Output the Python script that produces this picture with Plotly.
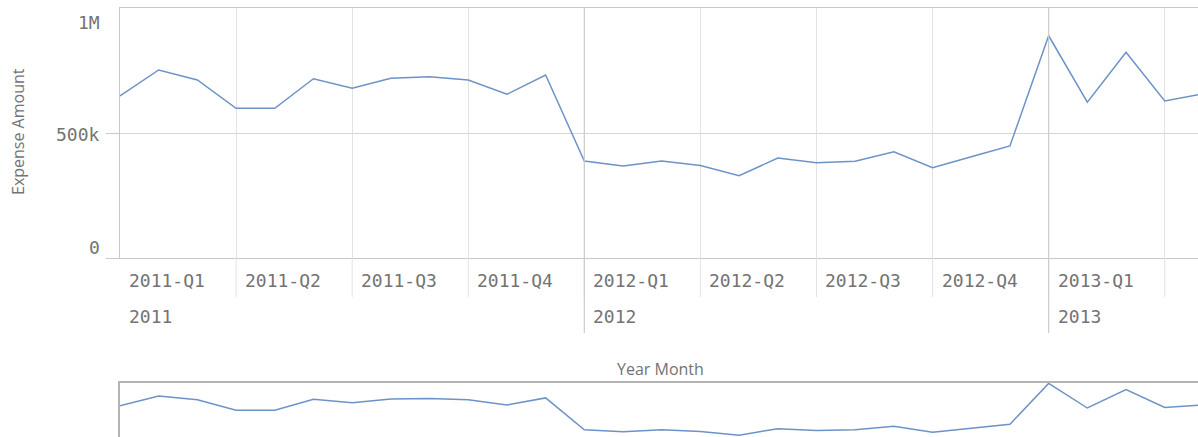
import plotly.graph_objects as go

# Monthly expense totals, Jan 2011 - May 2013
months = [
    "2011-01", "2011-02", "2011-03", "2011-04", "2011-05", "2011-06",
    "2011-07", "2011-08", "2011-09", "2011-10", "2011-11", "2011-12",
    "2012-01", "2012-02", "2012-03", "2012-04", "2012-05", "2012-06",
    "2012-07", "2012-08", "2012-09", "2012-10", "2012-11", "2012-12",
    "2013-01", "2013-02", "2013-03", "2013-04", "2013-05",
]
expense = [
    648000, 752000, 712000, 599000, 599000, 717000,
    679000, 719000, 725000, 712000, 655000, 732000,
    388000, 368000, 388000, 370000, 329000, 400000,
    381000, 387000, 425000, 361000, 405000, 448000,
    889000, 623000, 823000, 628000, 657000,
]
quarter_labels = ["2011-Q1", "2011-Q2", "2011-Q3", "2011-Q4",
                  "2012-Q1", "2012-Q2", "2012-Q3", "2012-Q4",
                  "2013-Q1", "2013-Q2"]
year_labels = ["2011", "2012", "2013"]
y_ticks = [0, 500000, 1000000]
y_tick_labels = ["0", "500k", "1M"]

W, H = 1198, 437
X_END = 27.86  # visible window end, in month-index units


def py(p):
    """pixel row -> paper y"""
    return 1 - p / H


LINE = "rgb(108,147,199)"
GRID = "#e3e3e3"
YEAR_GRID = "#cbcbcb"
AXIS = "#c8c8c8"
TXT = "#737373"
MONO = "DejaVu Sans Mono"
SANS = "Open Sans"
MONO_SIZE = 18

fig = go.Figure()
fig.add_trace(go.Scatter(x=months, y=expense, mode="lines",
                         line=dict(color=LINE, width=1.5),
                         xaxis="x", yaxis="y", hoverinfo="x+y"))
fig.add_trace(go.Scatter(x=months, y=expense, mode="lines",
                         line=dict(color=LINE, width=1.5),
                         xaxis="x2", yaxis="y2", hoverinfo="skip"))

quarter_starts = months[::3]
year_starts = [m for m in months if m.endswith("-01")]

fig.update_layout(
    width=W, height=H,
    margin=dict(l=0, r=0, t=0, b=0),
    paper_bgcolor="white", plot_bgcolor="white",
    showlegend=False,
    xaxis=dict(type="category", categoryorder="array", categoryarray=months,
               domain=[120 / W, 1], range=[0, X_END],
               tickvals=quarter_starts, showticklabels=False, ticks="",
               showgrid=True, gridcolor=GRID, gridwidth=1,
               showline=True, linecolor=AXIS, linewidth=1, mirror=True,
               zeroline=False, fixedrange=True),
    yaxis=dict(domain=[py(258), py(8)], range=[0, 1000000],
               tickvals=y_ticks[:2], showticklabels=False,
               ticks="outside", ticklen=13, tickcolor=AXIS,
               showgrid=True, gridcolor="#d6d6d6", gridwidth=1,
               showline=True, linecolor=AXIS, linewidth=1,
               zeroline=False, fixedrange=True),
    xaxis2=dict(type="category", categoryorder="array", categoryarray=months,
                domain=[120 / W, 1], range=[0, X_END], anchor="y2",
                side="top", showticklabels=False, showgrid=False,
                showline=True, linecolor="#b4b4b4", linewidth=2,
                zeroline=False, fixedrange=True),
    yaxis2=dict(domain=[0, py(383)], range=[310000, 893000], anchor="x2",
                showticklabels=False, showgrid=False,
                showline=True, linecolor="#b4b4b4", linewidth=2,
                zeroline=False, fixedrange=True),
)

shapes = []
annotations = []

# quarter separators below the plot, quarter labels that fit in the window
for q, lab in zip(quarter_starts, quarter_labels):
    idx = months.index(q)
    if idx > 0:
        shapes.append(dict(type="line", xref="x", yref="paper",
                           x0=q, x1=q, y0=py(258), y1=py(297),
                           line=dict(color=GRID, width=1)))
    if idx + 3 <= X_END:
        annotations.append(dict(x=q, y=py(280), xref="x", yref="paper",
                                text=lab, showarrow=False, xanchor="left",
                                yanchor="middle", xshift=7,
                                font=dict(family=MONO, size=MONO_SIZE, color=TXT)))

# year boundaries run from the top of the plot through both label rows
for y_start, lab in zip(year_starts, year_labels):
    idx = months.index(y_start)
    if idx > 0:
        shapes.append(dict(type="line", xref="x", yref="paper",
                           x0=y_start, x1=y_start, y0=py(333), y1=py(8),
                           line=dict(color=YEAR_GRID, width=1.2)))
    annotations.append(dict(x=y_start, y=py(316), xref="x", yref="paper",
                            text=lab, showarrow=False, xanchor="left",
                            yanchor="middle", xshift=7,
                            font=dict(family=MONO, size=MONO_SIZE, color=TXT)))

# value axis labels
shifts = {0: 11, 500000: -1, 1000000: -14}
for v, lab in zip(y_ticks, y_tick_labels):
    annotations.append(dict(x=102 / W, y=v, xref="paper", yref="y",
                            text=lab, showarrow=False, xanchor="right",
                            yanchor="middle", yshift=shifts[v],
                            font=dict(family=MONO, size=MONO_SIZE, color=TXT)))

# axis titles
annotations.append(dict(x=18 / W, y=py(132), xref="paper", yref="paper",
                        text="Expense Amount", textangle=-90, showarrow=False,
                        xanchor="center", yanchor="middle",
                        font=dict(family=SANS, size=16, color=TXT)))
annotations.append(dict(x=660 / W, y=py(369), xref="paper", yref="paper",
                        text="Year Month", showarrow=False,
                        xanchor="center", yanchor="middle",
                        font=dict(family=SANS, size=16, color=TXT)))

fig.update_layout(shapes=shapes, annotations=annotations)
fig.write_html("out.html")
